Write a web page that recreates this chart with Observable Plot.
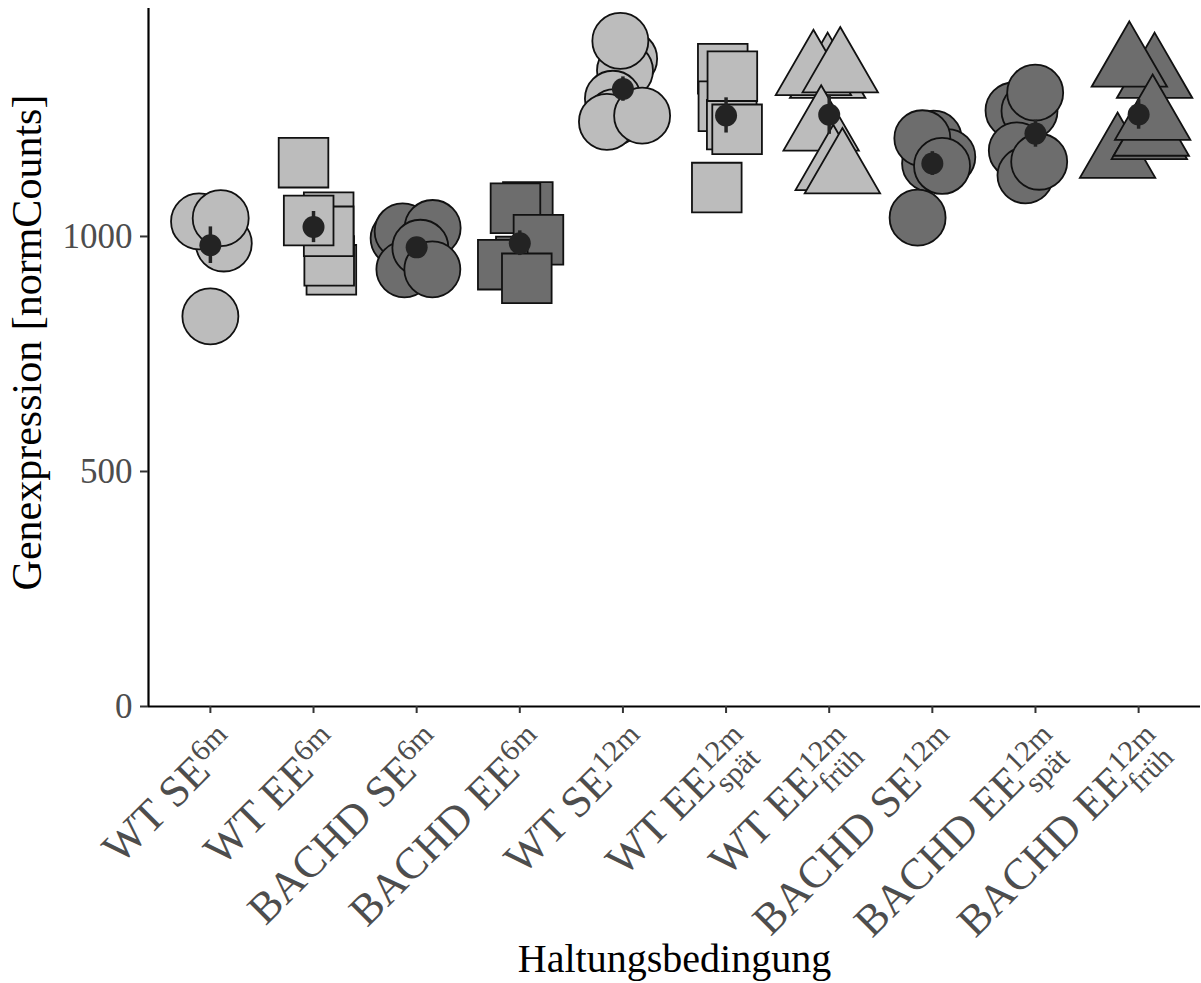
<!DOCTYPE html>
<html>
<head>
<meta charset="utf-8">
<script src="https://cdn.jsdelivr.net/npm/d3@7"></script>
<script src="https://cdn.jsdelivr.net/npm/@observablehq/plot@0.6"></script>
<style>
  html, body { margin: 0; padding: 0; background: #fff; }
</style>
</head>
<body>
<script>
// Housing conditions (x categories), in axis order
const groups = ["WT SE 6m", "WT EE 6m", "BACHD SE 6m", "BACHD EE 6m", "WT SE 12m",
  "WT EE 12m spät", "WT EE 12m früh", "BACHD SE 12m", "BACHD EE 12m spät", "BACHD EE 12m früh"];
// Tick label parts: main text, superscript, subscript
const labelMain = ["WT SE", "WT EE", "BACHD SE", "BACHD EE", "WT SE", "WT EE", "WT EE", "BACHD SE", "BACHD EE", "BACHD EE"];
const labelSup = ["6m", "6m", "6m", "6m", "12m", "12m", "12m", "12m", "12m", "12m"];
const labelSub = ["", "", "", "", "", "spät", "früh", "", "spät", "früh"];
const genotype = ["WT", "WT", "BACHD", "BACHD", "WT", "WT", "WT", "BACHD", "BACHD", "BACHD"];
// marker group of each condition
const cohort = ["A", "B", "A", "B", "A", "B", "C", "A", "A", "C"];

// normalised counts per animal, per group
const counts = [
  [1021, 985, 1032, 1039, 830],
  [929, 948, 1041, 1011, 1034, 1157],
  [996, 1011, 1018, 930, 976, 930],
  [1063, 1060, 947, 993, 940, 911],
  [1378, 1353, 1293, 1254, 1416, 1244, 1257],
  [1357, 1277, 1238, 1341, 1228, 1104],
  [1341, 1347, 1353, 1229, 1145, 1138],
  [1208, 1169, 1155, 1209, 1150, 1040],
  [1268, 1267, 1306, 1183, 1130, 1159],
  [1171, 1341, 1365, 1211, 1218, 1252]
];
// horizontal jitter of each animal (fraction of a category step)
const jitter = [
  [0.02, 0.13, -0.11, 0.10, 0.00],
  [0.173, 0.152, 0.147, 0.147, -0.047, -0.097],
  [-0.175, -0.136, 0.155, -0.119, 0.036, 0.152],
  [0.078, -0.042, 0.01, 0.181, -0.165, 0.068],
  [0.06, 0.02, -0.097, -0.08, -0.025, -0.155, 0.186],
  [-0.032, -0.026, 0.055, 0.061, 0.107, -0.09],
  [-0.015, -0.153, 0.107, -0.078, 0.039, 0.128],
  [0.013, 0.145, -0.022, -0.097, 0.094, -0.143],
  [-0.213, -0.058, -0.003, -0.181, -0.097, 0.036],
  [-0.204, 0.155, -0.09, 0.104, 0.123, 0.136]
];
const yTicks = [0, 500, 1000];

// long-format table of individual animals
const animals = counts.flatMap((vals, g) => vals.map((v, k) => ({
  pos: g + 1 + jitter[g][k], value: v, genotype: genotype[g], cohort: cohort[g]
})));
// group mean ± standard error
const summary = counts.map((vals, g) => {
  const m = d3.mean(vals);
  const se = d3.deviation(vals) / Math.sqrt(vals.length);
  return {pos: g + 1, mean: m, lo: m - se, hi: m + se};
});

const serif = "Liberation Serif, Times New Roman, serif";

const chart = Plot.plot({
  width: 1201,
  height: 983,
  marginLeft: 148,
  marginRight: 1,
  marginTop: 8,
  marginBottom: 277,
  style: {fontFamily: serif, background: "#fff"},
  x: {type: "linear", domain: [0.4, 10.6]},
  y: {domain: [0, 1485]},
  color: {type: "ordinal", domain: ["WT", "BACHD"], range: ["#bcbcbc", "#6d6d6d"]},
  symbol: {domain: ["A", "B", "C"], range: ["circle", "square", "triangle"]},
  marks: [
    // individual animals
    Plot.dot(animals, {
      x: "pos", y: "value", fill: "genotype", symbol: "cohort",
      r: 28, stroke: "#111", strokeWidth: 1.8
    }),
    // mean ± SE
    Plot.ruleX(summary, {x: "pos", y1: "lo", y2: "hi", stroke: "#232323", strokeWidth: 3.5}),
    Plot.dot(summary, {x: "pos", y: "mean", r: 11, fill: "#232323"}),
    // axis lines
    Plot.ruleX([0.4], {stroke: "#000", strokeWidth: 2.2}),
    Plot.ruleY([0], {stroke: "#000", strokeWidth: 2.2}),
    // y axis
    Plot.axisY({
      ticks: yTicks, tickFormat: d3.format("d"), tickSize: 8, tickPadding: 8,
      stroke: "#333", strokeWidth: 2, fill: "#4d4d4d", fontSize: 35, label: null
    }),
    // x axis ticks
    Plot.axisX({
      ticks: d3.range(1, 11), tickSize: 7, stroke: "#333", strokeWidth: 2,
      text: null, label: null
    }),
    // x tick labels (rotated)
    Plot.text(d3.range(groups.length), {
      x: i => i + 1, text: i => labelMain[i], frameAnchor: "bottom",
      rotate: -45, textAnchor: "end", lineAnchor: "bottom",
      dx: 29, dy: 40, fontSize: 44, fill: "#4d4d4d", className: "catlabel"
    }),
    // axis titles
    Plot.text(["Haltungsbedingung"], {
      text: d => d, frameAnchor: "bottom", dy: 265, lineAnchor: "bottom",
      fontSize: 40, fill: "#000"
    }),
    Plot.text(["Genexpression [normCounts]"], {
      text: d => d, frameAnchor: "left", rotate: -90, dx: -108, dy: -15,
      lineAnchor: "bottom", textAnchor: "middle", fontSize: 42, fill: "#000"
    })
  ]
});

document.body.append(chart);

// rich tick labels: superscript age and optional subscript for the EE groups
const scriptSize = 30, supRise = 15, subDrop = 14;
const labelNodes = [];
chart.querySelectorAll(".catlabel").forEach(el => {
  if (el.tagName.toLowerCase() === "text") labelNodes.push(el);
  else el.querySelectorAll("text").forEach(t => labelNodes.push(t));
});
labelNodes.forEach((node, j) => {
  const t = d3.select(node);
  t.text(null);
  t.append("tspan").text(labelMain[j]);
  const sup = labelSup[j], sub = labelSub[j];
  if (!sub) {
    t.append("tspan").attr("font-size", scriptSize).attr("dy", -supRise).text(sup);
    return;
  }
  // measure both scripts so the wider one sets the label's end
  const probe = t.append("tspan").attr("font-size", scriptSize);
  const wSup = probe.text(sup).node().getComputedTextLength();
  const wSub = probe.text(sub).node().getComputedTextLength();
  probe.remove();
  if (wSup <= wSub) {
    t.append("tspan").attr("font-size", scriptSize).attr("dy", -supRise).text(sup);
    t.append("tspan").attr("font-size", scriptSize).attr("dx", -wSup).attr("dy", supRise + subDrop).text(sub);
  } else {
    t.append("tspan").attr("font-size", scriptSize).attr("dy", subDrop).text(sub);
    t.append("tspan").attr("font-size", scriptSize).attr("dx", -wSub).attr("dy", -(supRise + subDrop)).text(sup);
  }
});
</script>
</body>
</html>
